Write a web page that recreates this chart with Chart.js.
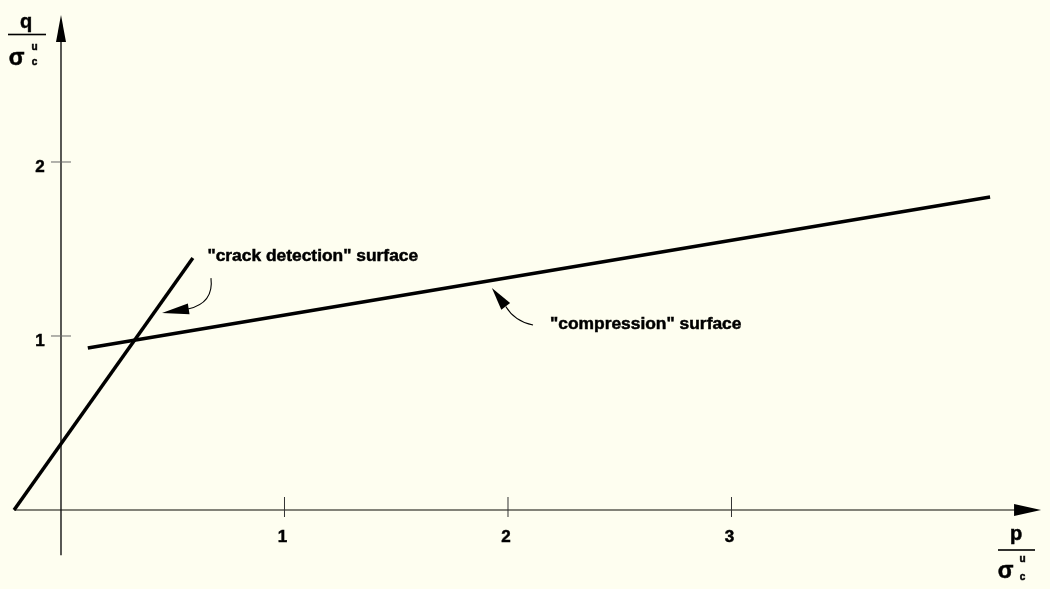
<!DOCTYPE html>
<html>
<head>
<meta charset="utf-8">
<script src="https://cdn.jsdelivr.net/npm/chart.js@4"></script>
<style>
  html, body { margin: 0; padding: 0; background: #fefef0; }
  #wrap { width: 1050px; height: 589px; }
</style>
</head>
<body>
<div id="wrap"><canvas id="grafico"></canvas></div>
<script>
// dados (p / sigma_c^u , q / sigma_c^u)
const crackP = [-0.21, 0.59];
const crackQ = [0, 1.448];
const compP = [0.12, 4.157];
const compQ = [0.931, 1.799];

const ticksX = [1, 2, 3];
const ticksY = [1, 2];
const labelsX = ['1', '2', '3'];
const labelsY = ['1', '2'];

const textoCrack = '"crack detection" surface';
const textoComp = '"compression" surface';

const FONTE = '"Liberation Sans", Arial, Helvetica, sans-serif';

function pontos(xs, ys) {
  return xs.map((x, i) => ({ x, y: ys[i] }));
}

function seta(ctx, tx, ty, fx, fy, comp, meia) {
  const ang = Math.atan2(ty - fy, tx - fx);
  const bx = tx - Math.cos(ang) * comp;
  const by = ty - Math.sin(ang) * comp;
  const nx = -Math.sin(ang) * meia;
  const ny = Math.cos(ang) * meia;
  ctx.beginPath();
  ctx.moveTo(tx, ty);
  ctx.lineTo(bx + nx, by + ny);
  ctx.lineTo(bx - nx, by - ny);
  ctx.closePath();
  ctx.fill();
}

// texto um pouco mais "pesado", como na figura original
function texto(ctx, s, x, y) {
  ctx.fillText(s, x, y);
  ctx.strokeText(s, x, y);
}

function fracao(ctx, f) {
  // num / sigma_c^u
  ctx.textAlign = 'center';
  ctx.textBaseline = 'alphabetic';
  ctx.lineWidth = 0.5;
  ctx.font = 'bold 20px ' + FONTE;
  texto(ctx, f.num, f.nx, f.nb);
  ctx.fillRect(f.bl, f.by - 0.8, f.br - f.bl, 1.6);
  ctx.font = 'bold 23px ' + FONTE;
  texto(ctx, 'σ', f.sx, f.sb);
  ctx.font = 'bold 10px ' + FONTE;
  texto(ctx, 'u', f.ux, f.ub);
  texto(ctx, 'c', f.ux, f.cb);
}

const eixos = {
  id: 'eixos',
  beforeDatasetsDraw(chart) {
    const { ctx, scales } = chart;
    const px = v => scales.x.getPixelForValue(v);
    const py = v => scales.y.getPixelForValue(v);
    const x0 = px(0), y0 = py(0);
    ctx.save();
    ctx.fillStyle = '#000';
    ctx.strokeStyle = '#000';

    // eixo x
    ctx.strokeStyle = '#5a5a52';
    ctx.lineWidth = 1.6;
    ctx.beginPath();
    ctx.moveTo(px(-0.21), y0);
    ctx.lineTo(px(4.3), y0);
    ctx.stroke();
    seta(ctx, px(4.385), y0, px(4.0), y0, 27, 6);

    // eixo y
    ctx.strokeStyle = '#111';
    ctx.lineWidth = 1.4;
    ctx.beginPath();
    ctx.moveTo(x0, py(-0.26));
    ctx.lineTo(x0, py(2.75));
    ctx.stroke();
    seta(ctx, x0, py(2.845), x0, py(2.5), 27, 5);

    // marcas
    ctx.lineWidth = 1;
    ctx.strokeStyle = '#333';
    ticksX.forEach(v => {
      ctx.beginPath();
      ctx.moveTo(px(v), y0 - 13);
      ctx.lineTo(px(v), y0 + 7);
      ctx.stroke();
    });
    ctx.strokeStyle = '#666';
    ticksY.forEach(v => {
      ctx.beginPath();
      ctx.moveTo(x0 - 10, py(v));
      ctx.lineTo(x0 + 10, py(v));
      ctx.stroke();
    });

    ctx.strokeStyle = '#000';
    ctx.lineWidth = 0.5;
    ctx.font = 'bold 17px ' + FONTE;
    ctx.textAlign = 'center';
    ctx.textBaseline = 'middle';
    ticksX.forEach((v, i) => texto(ctx, labelsX[i], px(v) - 2, y0 + 27));
    ticksY.forEach((v, i) => texto(ctx, labelsY[i], x0 - 21, py(v) + 5));

    fracao(ctx, { num: 'q', nx: 26, nb: 28, bl: 8, br: 46, by: 34.5,
                  sx: 16.5, sb: 65, ux: 34.5, ub: 50, cb: 65 });
    fracao(ctx, { num: 'p', nx: 1016, nb: 540, bl: 998, br: 1035, by: 550,
                  sx: 1005.5, sb: 578, ux: 1022.5, ub: 562, cb: 580 });
    ctx.restore();
  },
  afterDatasetsDraw(chart) {
    const { ctx, scales } = chart;
    const px = v => scales.x.getPixelForValue(v);
    const py = v => scales.y.getPixelForValue(v);
    ctx.save();
    ctx.fillStyle = '#000';
    ctx.strokeStyle = '#000';

    ctx.lineWidth = 0.5;
    ctx.font = 'bold 17.4px ' + FONTE;
    ctx.textAlign = 'left';
    ctx.textBaseline = 'middle';
    texto(ctx, textoCrack, px(0.655), py(1.46));
    texto(ctx, textoComp, px(2.188), py(1.069));

    ctx.lineWidth = 1.1;
    // seta do "crack detection"
    ctx.beginPath();
    ctx.moveTo(px(0.671), py(1.333));
    ctx.quadraticCurveTo(px(0.685), py(1.19), px(0.568), py(1.155));
    ctx.stroke();
    seta(ctx, px(0.452), py(1.132), px(0.568), py(1.155), 27, 5.5);

    // seta do "compression"
    ctx.beginPath();
    ctx.moveTo(px(2.112), py(1.063));
    ctx.quadraticCurveTo(px(2.03), py(1.085), px(1.99), py(1.17));
    ctx.stroke();
    seta(ctx, px(1.928), py(1.276), px(1.99), py(1.17), 23, 5.5);
    ctx.restore();
  }
};

const chart = new Chart(document.getElementById('grafico'), {
  type: 'scatter',
  data: {
    datasets: [
      {
        label: 'crack detection',
        data: pontos(crackP, crackQ),
        showLine: true,
        borderColor: '#000',
        borderWidth: 3.5,
        pointRadius: 0,
        borderCapStyle: 'butt'
      },
      {
        label: 'compression',
        data: pontos(compP, compQ),
        showLine: true,
        borderColor: '#000',
        borderWidth: 3.5,
        pointRadius: 0,
        borderCapStyle: 'butt'
      }
    ]
  },
  options: {
    responsive: true,
    maintainAspectRatio: false,
    animation: false,
    layout: { padding: 0 },
    plugins: {
      legend: { display: false },
      tooltip: { enabled: false }
    },
    scales: {
      x: { type: 'linear', display: false, min: -0.2729, max: 4.4251 },
      y: { type: 'linear', display: false, min: -0.454, max: 2.931 }
    }
  },
  plugins: [eixos]
});
</script>
</body>
</html>
